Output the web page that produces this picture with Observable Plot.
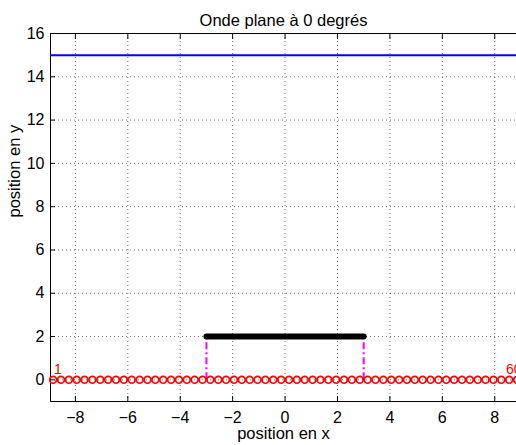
<!DOCTYPE html>
<html>
<head>
<meta charset="utf-8">
<script src="https://cdn.jsdelivr.net/npm/d3@7"></script>
<script src="https://cdn.jsdelivr.net/npm/@observablehq/plot@0.6"></script>
<style>
  html, body { margin: 0; padding: 0; background: #fff; }
  svg { display: block; }
</style>
</head>
<body>
<div id="chart"></div>
<script>
// Axis ticks
const xTicks = [-8, -6, -4, -2, 0, 2, 4, 6, 8];
const yTicks = [0, 2, 4, 6, 8, 10, 12, 14, 16];
const xLimits = [-8.95, 8.83];
const yLimits = [-1, 16];

// Receiver positions along y = 0 (60 sensors)
const sensorX = [
  -8.85, -8.55, -8.25, -7.95, -7.65, -7.35, -7.05, -6.75, -6.45, -6.15,
  -5.85, -5.55, -5.25, -4.95, -4.65, -4.35, -4.05, -3.75, -3.45, -3.15,
  -2.85, -2.55, -2.25, -1.95, -1.65, -1.35, -1.05, -0.75, -0.45, -0.15,
   0.15,  0.45,  0.75,  1.05,  1.35,  1.65,  1.95,  2.25,  2.55,  2.85,
   3.15,  3.45,  3.75,  4.05,  4.35,  4.65,  4.95,  5.25,  5.55,  5.85,
   6.15,  6.45,  6.75,  7.05,  7.35,  7.65,  7.95,  8.25,  8.55,  8.85
];
const sensorY = 0;
const firstLabel = "1";
const lastLabel = "60";

// Source segment (black) and its projection (magenta)
const sourceX = [-3, 3];
const sourceY = 2;

// Incident plane wave front
const waveY = 15;

const sensors = sensorX.map(x => ({x, y: sensorY}));
const source = sourceX.map(x => ({x, y: sourceY}));

const font = "'Liberation Sans', Arial, Helvetica, sans-serif";

const chart = Plot.plot({
  width: 516,
  height: 445,
  marginLeft: 50,
  marginRight: 0,
  marginTop: 33,
  marginBottom: 44,
  style: {fontFamily: font, fontSize: "16px", background: "#fff"},
  x: {domain: xLimits, axis: null},
  y: {domain: yLimits, axis: null},
  marks: [
    // dotted grid
    Plot.ruleX(xTicks, {stroke: "#000", strokeOpacity: 0.55, strokeDasharray: "1,3", strokeWidth: 1}),
    Plot.ruleY(yTicks, {stroke: "#000", strokeOpacity: 0.55, strokeDasharray: "1,3", strokeWidth: 1}),
    // frame (left, top, bottom)
    Plot.ruleX([xLimits[0]], {stroke: "#000", strokeWidth: 1}),
    Plot.ruleY([yLimits[0], yLimits[1]], {stroke: "#000", strokeWidth: 1}),
    // inward tick marks
    Plot.axisX(xTicks, {anchor: "bottom", tickSize: -5, tickFormat: () => "", label: null}),
    Plot.axisX(xTicks, {anchor: "top", tickSize: -5, tickFormat: () => "", label: null}),
    Plot.axisY(yTicks, {anchor: "left", tickSize: -5, tickFormat: () => "", label: null}),
    // tick labels
    Plot.axisX(xTicks, {anchor: "bottom", tickSize: 0, tickPadding: 10, fontSize: 16, label: null}),
    Plot.axisY(yTicks, {anchor: "left", tickSize: 0, tickPadding: 6, fontSize: 16, label: null}),
    // wave front
    Plot.ruleY([waveY], {stroke: "#0000ff", strokeWidth: 2}),
    // projection of the source onto the receiver line
    Plot.ruleX(sourceX, {y1: sensorY, y2: sourceY, stroke: "#ff00ff", strokeWidth: 2, strokeDasharray: "7,3,2,3"}),
    // source segment
    Plot.line(source, {x: "x", y: "y", stroke: "#000", strokeWidth: 6, strokeLinecap: "round"}),
    // receivers
    Plot.dot(sensors, {x: "x", y: "y", r: 3.4, stroke: "#ff0000", strokeWidth: 1.7, fill: "none"}),
    // receiver numbering (first and last)
    Plot.text([firstLabel], {x: sensorX[0], y: sensorY, text: d => d, fill: "#ff0000", fontSize: 14,
      textAnchor: "start", dx: 1, dy: -10}),
    Plot.text([lastLabel], {x: sensorX[sensorX.length - 1], y: sensorY, text: d => d, fill: "#ff0000", fontSize: 14,
      textAnchor: "start", dx: -11, dy: -10}),
    // title and axis labels
    Plot.text(["Onde plane à 0 degrés"], {frameAnchor: "top", dy: -19, fontSize: 16.5, fill: "#000"}),
    Plot.text(["position en x"], {frameAnchor: "bottom", dy: 37, fontSize: 16.5, fill: "#000"}),
    Plot.text(["position en y"], {frameAnchor: "left", dx: -36, rotate: -90, fontSize: 16.5, fill: "#000"})
  ]
});

document.getElementById("chart").appendChild(chart);
</script>
</body>
</html>
